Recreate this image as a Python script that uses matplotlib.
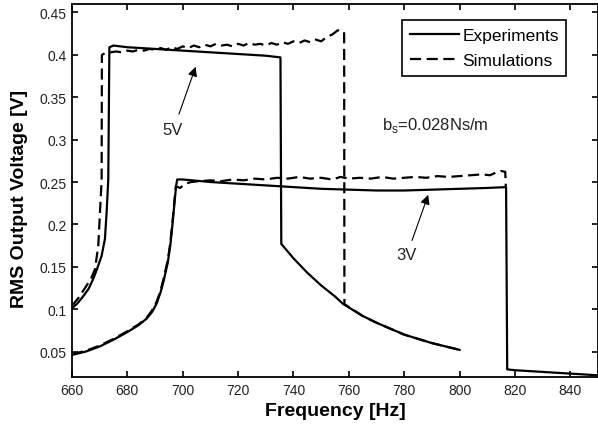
import matplotlib
matplotlib.use("Agg")
import matplotlib.pyplot as plt

plt.rcParams['font.family'] = ['Liberation Sans', 'DejaVu Sans']

# 5V experiment (solid)
f_5v_exp = [660, 662, 664, 666, 667.7, 669, 670.7, 671.9, 672.5, 673.1, 673.3, 673.5,
            675, 680, 690, 700, 710, 720, 730, 735.3, 735.6, 740, 745, 750, 755,
            758, 765, 770, 775, 780, 785, 790, 795, 800]
v_5v_exp = [0.101, 0.107, 0.115, 0.124, 0.136, 0.147, 0.163, 0.183, 0.214, 0.253, 0.33, 0.409,
            0.411, 0.409, 0.407, 0.405, 0.403, 0.401, 0.399, 0.397, 0.177, 0.160, 0.143, 0.128, 0.115,
            0.106, 0.092, 0.084, 0.077, 0.070, 0.065, 0.060, 0.056, 0.052]

# 5V simulation (dashed)
f_5v_sim = [660, 662.5, 665.3, 667, 668.3, 669.5, 670.1, 670.7, 670.8,
            672, 674, 676, 678, 680, 682, 684, 686, 688, 690, 692, 694, 696, 698,
            700, 702, 704, 706, 708, 710, 712, 714, 716, 718, 720, 722, 724, 726,
            728, 730, 732, 734, 736, 738, 740, 742, 744, 746, 748, 750, 752, 754,
            756, 757.5, 758.3, 758.4, 765, 770, 775, 780, 785, 790, 795, 800]
v_5v_sim = [0.104, 0.114, 0.128, 0.137, 0.147, 0.175, 0.214, 0.252, 0.400,
            0.402, 0.403, 0.404, 0.403, 0.405, 0.404, 0.406, 0.405, 0.407, 0.406, 0.408, 0.406, 0.409, 0.407,
            0.410, 0.408, 0.411, 0.409, 0.412, 0.410, 0.413, 0.411, 0.412, 0.410, 0.413, 0.411, 0.414, 0.412,
            0.413, 0.411, 0.414, 0.412, 0.415, 0.413, 0.416, 0.414, 0.417, 0.415, 0.418, 0.416, 0.421, 0.424,
            0.429, 0.428, 0.427, 0.106, 0.092, 0.084, 0.077, 0.070, 0.065, 0.060, 0.056, 0.052]

# 3V experiment (solid)
f_3v_exp = [660, 665, 670, 675, 680, 684, 687, 689, 690.6, 692, 693, 694.6, 695.5, 696.3,
            697, 697.6, 698, 700, 710, 720, 730, 740, 750, 760, 770, 780, 790, 800, 810,
            816.8, 817.2, 820, 830, 840, 850]
v_3v_exp = [0.046, 0.050, 0.056, 0.064, 0.073, 0.081, 0.089, 0.097, 0.107, 0.120, 0.132, 0.155, 0.175, 0.200,
            0.225, 0.245, 0.253, 0.253, 0.250, 0.248, 0.246, 0.244, 0.242, 0.241, 0.240, 0.240, 0.241, 0.242, 0.243,
            0.244, 0.029, 0.028, 0.026, 0.024, 0.022]

# 3V simulation (dashed)
f_3v_sim = [660, 665, 670, 675, 680, 684, 687, 689, 690.6, 692, 693, 694.6, 695.5, 696.3,
            697, 697.5, 699, 701, 703, 706, 710, 714, 718, 722, 726, 730, 734, 738, 742,
            746, 750, 754, 757, 760, 764, 768, 772, 776, 780, 784, 788, 792, 796, 800,
            804, 808, 811, 813, 815, 816.5, 816.7]
v_3v_sim = [0.047, 0.051, 0.057, 0.065, 0.074, 0.082, 0.090, 0.099, 0.109, 0.122, 0.135, 0.158, 0.178, 0.203,
            0.228, 0.245, 0.243, 0.248, 0.250, 0.251, 0.252, 0.251, 0.253, 0.252, 0.254, 0.253, 0.255, 0.254, 0.256,
            0.254, 0.255, 0.253, 0.256, 0.254, 0.255, 0.254, 0.256, 0.254, 0.255, 0.256, 0.255, 0.257, 0.256, 0.257,
            0.258, 0.259, 0.258, 0.261, 0.263, 0.262, 0.245]

x_ticks = [660, 680, 700, 720, 740, 760, 780, 800, 820, 840]
y_ticks = [0.05, 0.1, 0.15, 0.2, 0.25, 0.3, 0.35, 0.4, 0.45]
y_tick_labels = ['0.05', '0.1', '0.15', '0.2', '0.25', '0.3', '0.35', '0.4', '0.45']

fig = plt.figure(figsize=(5.98, 4.35), dpi=100)
ax = fig.add_axes([72 / 598, 1 - 378 / 435, 526 / 598, 373 / 435])

ax.plot(f_5v_exp, v_5v_exp, 'k-', lw=1.6, label='Experiments')
ax.plot(f_5v_sim, v_5v_sim, 'k--', lw=1.6, dashes=(5, 2.5), label='Simulations')
ax.plot(f_3v_exp, v_3v_exp, 'k-', lw=1.6)
ax.plot(f_3v_sim, v_3v_sim, 'k--', lw=1.6, dashes=(5, 2.5))

ax.set_xlim(660, 850)
ax.set_ylim(0.02, 0.46)
ax.set_xticks(x_ticks)
ax.set_yticks(y_ticks)
ax.set_yticklabels(y_tick_labels)
ax.tick_params(direction='in', top=True, right=True, length=4, width=1.2,
               labelsize=10, labelcolor='#222222', pad=4)
for s in ax.spines.values():
    s.set_linewidth(1.3)

ax.set_xlabel('Frequency [Hz]', fontsize=14, fontweight='bold', labelpad=4)
ax.set_ylabel('RMS Output Voltage [V]', fontsize=14, fontweight='bold')
ax.yaxis.set_label_coords(-0.083, 0.48)

arrow = dict(arrowstyle='-|>', lw=0.8, color='k', mutation_scale=14)
ax.annotate('', xy=(705, 0.389), xytext=(698.3, 0.327), arrowprops=arrow)
ax.text(696.5, 0.312, '5V', fontsize=12, ha='center', va='center', color='#222222')
ax.annotate('', xy=(789, 0.238), xytext=(782.5, 0.178), arrowprops=arrow)
ax.text(781, 0.164, '3V', fontsize=12, ha='center', va='center', color='#222222')
ax.text(772, 0.318, r'b$_\mathregular{s}$=0.028Ns/m', fontsize=12, ha='left', va='center',
        color='#222222')

leg = ax.legend(loc='upper right', bbox_to_anchor=(0.94, 0.957), fontsize=12.5,
                fancybox=False, edgecolor='k', framealpha=1, handlelength=2.8,
                handletextpad=0.2, borderpad=0.45, labelspacing=0.55, borderaxespad=0)
leg.get_frame().set_linewidth(1.2)

fig.savefig('out.png', dpi=100)
